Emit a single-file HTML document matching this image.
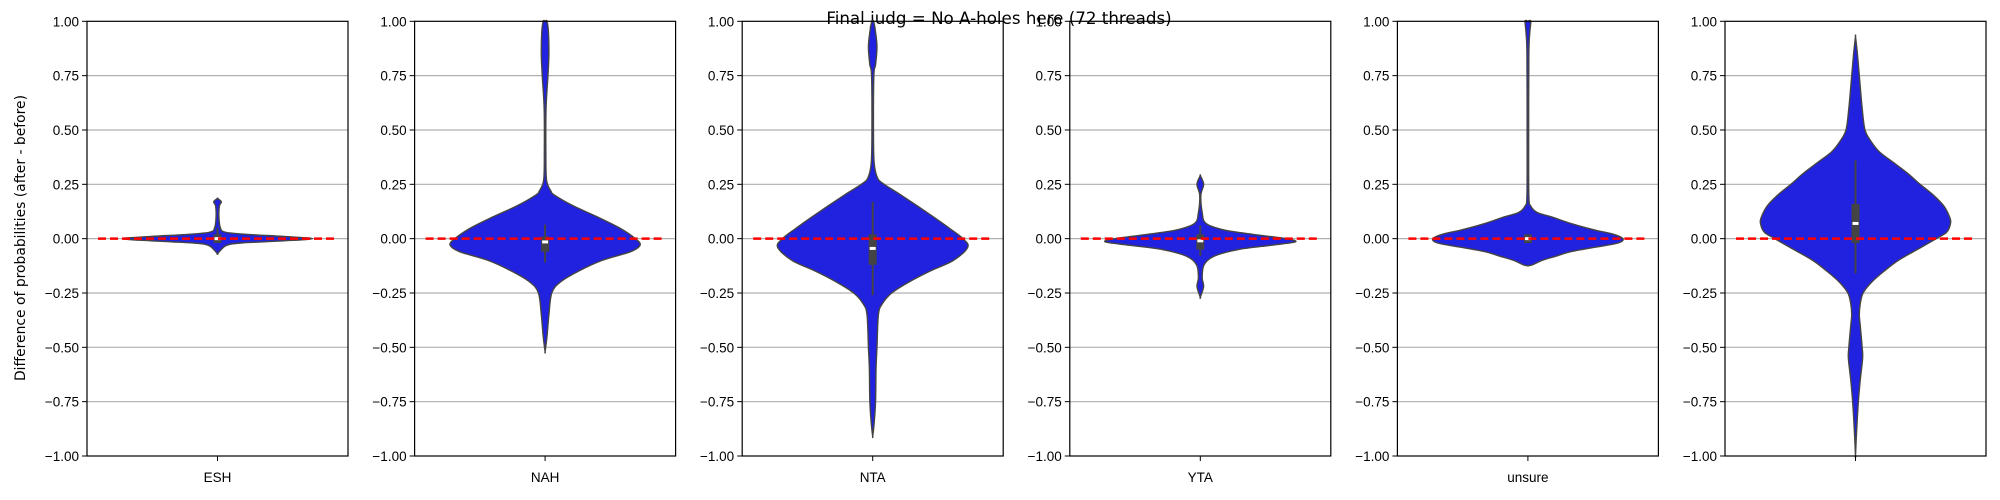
<!DOCTYPE html>
<html><head><meta charset="utf-8"><style>
html,body{margin:0;padding:0;background:#fff;}
svg{display:block;font-family:"Liberation Sans","DejaVu Sans",sans-serif;}
</style></head><body>
<svg id="chart" width="2000" height="500" viewBox="0 0 2000 500" xmlns="http://www.w3.org/2000/svg">
<rect width="2000" height="500" fill="#fff"/>
<text x="999" y="24" text-anchor="middle" font-size="16.7" fill="#000" style="font-family:'DejaVu Sans',sans-serif">Final judg = No A-holes here (72 threads)</text>
<text transform="translate(25,238) rotate(-90)" text-anchor="middle" font-size="13.9" fill="#000" style="font-family:'DejaVu Sans',sans-serif">Difference of probabilities (after - before)</text>
</svg>
<script>
const categories = ["ESH","NAH","NTA","YTA","unsure",""];
const yTicks = [1.00,0.75,0.50,0.25,0.00,-0.25,-0.50,-0.75,-1.00];
const profileESH = [[0.185,0],[0.17,0.04],[0.15,0.02],[0.1,0.015],[0.05,0.03],[0.03,0.08],[0.02,0.3],[0.01,0.7],[0.0,1.0],[-0.01,0.7],[-0.02,0.25],[-0.03,0.1],[-0.05,0.04],[-0.07,0]];
const profileNAH = [[1.0,0.02],[0.95,0.035],[0.85,0.04],[0.75,0.03],[0.6,0.01],[0.4,0.008],[0.27,0.015],[0.22,0.06],[0.2,0.1],[0.15,0.3],[0.1,0.55],[0.05,0.78],[0.0,0.95],[-0.03,1.0],[-0.06,0.9],[-0.1,0.6],[-0.15,0.35],[-0.2,0.16],[-0.25,0.07],[-0.35,0.04],[-0.45,0.02],[-0.52,0]];
const profileNTA = [[1.0,0.01],[0.95,0.03],[0.88,0.045],[0.8,0.03],[0.75,0.012],[0.5,0.008],[0.35,0.015],[0.28,0.05],[0.25,0.12],[0.2,0.3],[0.1,0.64],[0.05,0.8],[0.0,0.95],[-0.04,1.0],[-0.1,0.85],[-0.15,0.6],[-0.2,0.38],[-0.25,0.2],[-0.3,0.1],[-0.35,0.06],[-0.5,0.045],[-0.6,0.035],[-0.75,0.03],[-0.85,0.015],[-0.91,0]];
const profileYTA = [[0.29,0],[0.25,0.035],[0.2,0.006],[0.12,0.02],[0.07,0.06],[0.04,0.25],[0.02,0.55],[0.0,0.9],[-0.015,1.0],[-0.03,0.75],[-0.05,0.4],[-0.08,0.15],[-0.12,0.04],[-0.18,0.02],[-0.22,0.035],[-0.27,0]];
const profileUnsure = [[1.0,0.03],[0.95,0.02],[0.85,0.01],[0.5,0.008],[0.2,0.01],[0.15,0.03],[0.12,0.1],[0.1,0.25],[0.07,0.45],[0.04,0.7],[0.02,0.9],[0.0,1.0],[-0.02,0.95],[-0.04,0.7],[-0.06,0.45],[-0.08,0.3],[-0.1,0.15],[-0.12,0.05],[-0.125,0]];
const profileLast = [[0.93,0],[0.85,0.02],[0.75,0.04],[0.6,0.07],[0.5,0.1],[0.45,0.16],[0.4,0.25],[0.35,0.4],[0.3,0.55],[0.25,0.68],[0.2,0.82],[0.15,0.93],[0.1,0.99],[0.07,1.0],[0.03,0.96],[0.0,0.85],[-0.05,0.65],[-0.1,0.45],[-0.15,0.3],[-0.2,0.17],[-0.25,0.08],[-0.3,0.05],[-0.35,0.04],[-0.4,0.05],[-0.5,0.07],[-0.55,0.075],[-0.65,0.05],[-0.75,0.03],[-0.9,0.01],[-1.0,0]];
const profiles = [profileESH,profileNAH,profileNTA,profileYTA,profileUnsure,profileLast];
const q1s = [-0.02,-0.06,-0.12,-0.05,-0.02,-0.02];
const q3s = [0.02,0.01,0.02,0.02,0.02,0.16];
const medians = [0.0,-0.015,-0.045,-0.01,0.0,0.07];
const whiskLo = [-0.02,-0.11,-0.26,-0.08,-0.02,-0.16];
const whiskHi = [0.05,0.065,0.17,0.06,0.02,0.36];

const NS="http://www.w3.org/2000/svg";
const svg=document.getElementById('chart');
const top0=21.3, bot0=456, panelW=261, halfMax=95;
const yScale=v=>top0+(1-v)/2*(bot0-top0);
function mk(tag,attrs,parent){const e=document.createElementNS(NS,tag);for(const k in attrs)e.setAttribute(k,attrs[k]);(parent||svg).appendChild(e);return e;}
function smooth(pts){
  let d='M'+pts[0][0]+','+pts[0][1];
  for(let i=0;i<pts.length-1;i++){
    const p0=pts[Math.max(0,i-1)],p1=pts[i],p2=pts[i+1],p3=pts[Math.min(pts.length-1,i+2)];
    const c1=[p1[0]+(p2[0]-p0[0])/6,p1[1]+(p2[1]-p0[1])/6];
    const c2=[p2[0]-(p3[0]-p1[0])/6,p2[1]-(p3[1]-p1[1])/6];
    d+=' C'+c1[0]+','+c1[1]+' '+c2[0]+','+c2[1]+' '+p2[0]+','+p2[1];
  }
  return d;
}
categories.forEach((cat,i)=>{
  const left=87+i*327.6, right=left+panelW, cx=left+panelW/2;
  const g=mk('g',{});
  
  
  yTicks.forEach(t=>{
    const y=yScale(t);
    if(t<1&&t>-1){const gl=mk('line',{x1:left,x2:right,y1:y,y2:y,stroke:'#b0b0b0','stroke-width':1.2},g);
      
      }
    mk('line',{x1:left-5,x2:left,y1:y,y2:y,stroke:'#000','stroke-width':1},g);
    const tl=mk('text',{x:left-8,y:y+5,'text-anchor':'end','font-size':'13.5',fill:'#000'},g);
    
    
    tl.textContent=t.toFixed(2).replace('-','\u2212');
  });
  const p=profiles[i];
  const rightPts=p.map(pt=>[cx+pt[1]*halfMax,yScale(pt[0])]);
  const leftPts=p.slice().reverse().map(pt=>[cx-pt[1]*halfMax,yScale(pt[0])]);
  let d=smooth([[cx,yScale(p[0][0])]].concat(rightPts,[[cx,yScale(p[p.length-1][0])]]));
  d+=' '+smooth([[cx,yScale(p[p.length-1][0])]].concat(leftPts,[[cx,yScale(p[0][0])]])).replace(/^M[^ ]+/,'')+'Z';
  const v=mk('path',{d:d,fill:'#2121e0',stroke:'#444','stroke-width':1.4,'stroke-linejoin':'round'},g);
  
  
  const w=mk('line',{x1:cx,x2:cx,y1:yScale(whiskLo[i]),y2:yScale(whiskHi[i]),stroke:'#444','stroke-width':2},g);
  
  
  const b=mk('rect',{x:cx-4,y:yScale(q3s[i]),width:8,height:Math.max(2,yScale(q1s[i])-yScale(q3s[i])),fill:'#444'},g);
  
  
  const m=mk('rect',{x:cx-3,y:yScale(medians[i])-1.5,width:6,height:3,fill:'#fff'},g);
  
  
  const r=mk('line',{x1:left+11,x2:right-11,y1:yScale(0),y2:yScale(0),stroke:'#ff0000','stroke-width':2.5,'stroke-dasharray':'8,4'},g);
  
  
  const fr=mk('rect',{x:left,y:top0,width:panelW,height:bot0-top0,fill:'none',stroke:'#000','stroke-width':1.2},g);
  
  
  mk('line',{x1:cx,x2:cx,y1:bot0,y2:bot0+5,stroke:'#000','stroke-width':1},g);
  if(cat){const xl=mk('text',{x:cx,y:482,'text-anchor':'middle','font-size':'13.5',fill:'#000'},g);
    
    
    xl.textContent=cat;}
});
</script>
</body></html>
